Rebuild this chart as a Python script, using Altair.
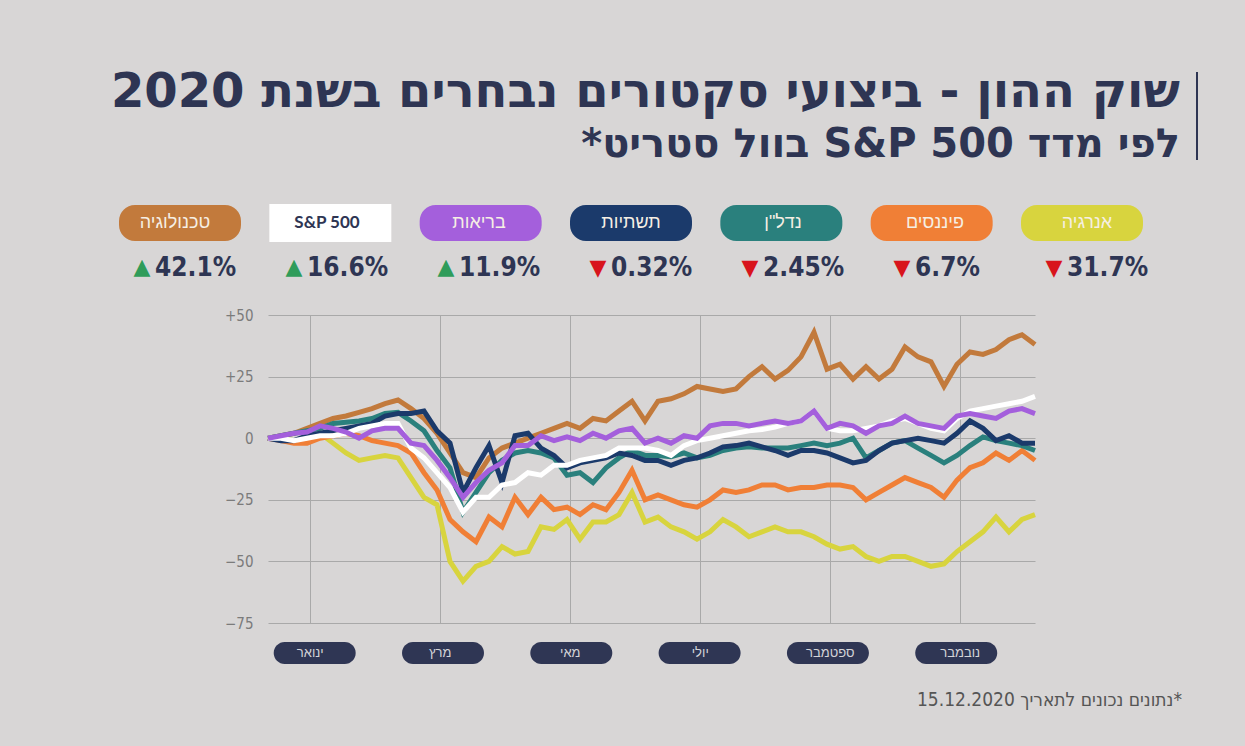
import altair as alt
import pandas as pd

# ---------------- data ----------------
X = [0.35, 0.55, 0.75, 0.95, 1.15, 1.35, 1.55, 1.75, 1.95, 2.15,
     2.35, 2.55, 2.75, 2.95, 3.15, 3.35, 3.55, 3.75, 3.95, 4.15,
     4.35, 4.55, 4.75, 4.95, 5.15, 5.35, 5.55, 5.75, 5.95, 6.15,
     6.35, 6.55, 6.75, 6.95, 7.15, 7.35, 7.55, 7.75, 7.95, 8.15,
     8.35, 8.55, 8.75, 8.95, 9.15, 9.35, 9.55, 9.75, 9.95, 10.15,
     10.35, 10.55, 10.75, 10.95, 11.15, 11.35, 11.55, 11.75, 11.95, 12.15]

TECH = [0, 1, 2, 4, 6, 8, 9, 10.5, 12, 14,
        15.5, 12, 8, 2, -6, -14, -16, -8, -4, -2,
        0, 2, 4, 6, 4, 8, 7, 11, 15, 7,
        15, 16, 18, 21, 20, 19, 20, 25, 29, 24,
        27.5, 33, 43, 28, 30, 24, 29, 24, 28, 37,
        33, 31, 21, 30, 35, 34, 36, 40, 42, 38]
ENERGY = [0, 0, -1, 0, 2, -2, -6, -9, -8, -7,
          -8, -16, -24, -27, -50, -58, -52, -50, -44, -47,
          -46, -36, -37, -33, -41, -34, -34, -31, -22, -34,
          -32, -36, -38, -41, -38, -33, -36, -40, -38, -36,
          -38, -38, -40, -43, -45, -44, -48, -50, -48, -48,
          -50, -52, -51, -46, -42, -38, -32, -38, -33, -31]
FIN = [0, -1, -2, -2, 0, 1, 2, 1, -1, -2,
       -3, -6, -14, -21, -33, -38, -42, -32, -36, -24,
       -31, -24, -29, -28, -31, -27, -29, -22, -13, -25,
       -23, -25, -27, -28, -25, -21, -22, -21, -19, -19,
       -21, -20, -20, -19, -19, -20, -25, -22, -19, -16,
       -18, -20, -24, -17, -12, -10, -6, -9, -5, -9]
HEALTH = [0, 1, 2, 2.5, 5, 4, 2.5, 0, 3, 4,
          4, -2, -3, -9, -16, -24, -18, -13, -10, -3,
          -3, 1, -1, 0.5, -1, 2, 0, 3, 4, -2,
          0, -2, 1, 0, 5, 6, 6, 5, 6, 7,
          6, 7, 11, 4, 6, 5, 2, 5, 6, 9,
          6, 5, 4, 9, 10, 9, 8, 11, 12, 10]
SP500 = [0, 0, -1, 0, 1, 1, 2, 4, 5, 6,
         6, -4, -8, -14, -20, -30, -24, -24, -19, -18,
         -14, -15, -11, -11, -9, -8, -7, -4, -4, -4,
         -5, -7, -3, -1, 0, 1, 2, 3, 3.5, 4.5,
         6, 7, 11, 4, 3, 3, 4, 5, 7, 8,
         6, 4, 3, 8, 11, 12, 13, 14, 15, 17]
INFRA = [0, -1, -1, 1, 2, 3, 4, 5, 6, 9,
         10, 10, 11, 3, -2, -22, -12, -3, -18, 1,
         2, -4, -7, -12, -10, -9, -8, -6, -7, -9,
         -9, -11, -9, -8, -6, -3.5, -3, -2, -3.5, -5,
         -7, -5, -5, -6, -8, -10, -9, -5, -2, -1,
         0, -1, -2, 2, 7, 4, -1, 1, -2, -2]
REALTY = [0, 1, 2, 3, 4, 6, 6.5, 7, 8, 10,
          10.5, 7, 3, -5, -12, -30, -22, -14, -9, -6,
          -5, -6, -8, -15, -14, -18, -12, -8, -5, -7,
          -7, -7.5, -6, -8, -7, -5, -4, -3.5, -4, -4,
          -4, -3, -2, -3, -2, 0, -8, -5, -2, -1,
          -4, -7, -10, -7, -3, 0.5, -1, -2, -3, -5]

NAMES = ["טכנולוגיה", "S&P 500", "בריאות", "תשתיות", "נדל\"ן", "פיננסים", "אנרגיה"]
PCTS = ["42.1%", "16.6%", "11.9%", "0.32%", "2.45%", "6.7%", "31.7%"]
UP = [True, True, True, False, False, False, False]
COLORS = ["#c27a3c", "#ffffff", "#a45fdc", "#1b3a6b", "#2a807d", "#f07f36", "#d8d43e"]
SERIES = [TECH, SP500, HEALTH, INFRA, REALTY, FIN, ENERGY]
DRAW_ORDER = [0, 6, 5, 4, 3, 1, 2]

MONTHS = ["ינואר", "מרץ", "מאי", "יולי", "ספטמבר", "נובמבר"]
MONTH_POS = [1, 3, 5, 7, 9, 11]

TITLE = "שוק ההון - ביצועי סקטורים נבחרים בשנת 2020"
SUBTITLE = "לפי מדד S&P 500 בוול סטריט*"
NOTE = "*נתונים נכונים לתאריך 15.12.2020"
RLE, PDF = "\u202b", "\u202c"

NAVY = "#2e3553"
HEB_FONT = "Liberation Sans"
TITLE_FONT = "DejaVu Sans"
NUM_FONT = "Liberation Sans Narrow, DejaVu Sans Condensed, Liberation Sans"

# ---------------- scales ----------------
xs = alt.Scale(domain=[0.35, 12.15], nice=False, zero=False)
ys = alt.Scale(domain=[-75, 50], nice=False, zero=False)
y_axis = alt.Axis(values=[-75, -50, -25, 0, 25, 50],
                  labelExpr="datum.value > 0 ? '+' + datum.label : datum.label",
                  grid=True, gridColor="#a9a9a9", gridWidth=1, ticks=False,
                  domain=False, labelPadding=15, labelFontSize=15,
                  labelColor="#7b7b7b", labelFont=NUM_FONT, title=None)
x_axis = alt.Axis(values=MONTH_POS, grid=True, gridColor="#a9a9a9", gridWidth=1,
                  labels=False, ticks=False, domain=False, title=None)

layers = []
for n, i in enumerate(DRAW_ORDER):
    df = pd.DataFrame({"x": X, "v": SERIES[i]})
    layers.append(
        alt.Chart(df).mark_line(strokeWidth=5, color=COLORS[i]).encode(
            x=alt.X("x:Q", scale=xs, axis=x_axis if n == 0 else None),
            y=alt.Y("v:Q", scale=ys, axis=y_axis),
        )
    )

# month pills
mdf = pd.DataFrame({"m": MONTH_POS, "name": MONTHS})
layers.append(
    alt.Chart(mdf).mark_bar(orient="vertical", width=82, cornerRadius=11, color="#2f3654").encode(
        x=alt.X("m:Q", scale=xs, axis=None), y=alt.value(327), y2=alt.value(349)
    )
)
layers.append(
    alt.Chart(mdf).mark_text(color="#d4d4d8", fontSize=13, font=HEB_FONT, baseline="middle").encode(
        x=alt.X("m:Q", scale=xs, axis=None), y=alt.value(338), text="name:N"
    )
)

# legend pills
ldf = pd.DataFrame({"i": list(range(len(NAMES))), "name": NAMES, "pct": PCTS,
                    "up": UP, "col": COLORS})
lx = alt.X("i:Q", scale=alt.Scale(domain=[0, 6], range=[-93, 819], nice=False, zero=False), axis=None)
lcol = alt.Color("col:N", scale=None, legend=None)
layers.append(
    alt.Chart(ldf).transform_filter("datum.i != 1").mark_bar(
        orient="vertical", width=122, cornerRadius=16).encode(
        x=lx, y=alt.value(-110), y2=alt.value(-74), color=lcol)
)
layers.append(
    alt.Chart(ldf).transform_filter("datum.i == 1").mark_bar(
        orient="vertical", width=122, color="#ffffff").encode(
        x=lx, y=alt.value(-111), y2=alt.value(-73))
)
layers.append(
    alt.Chart(ldf).transform_filter("datum.i != 1").mark_text(
        color="#f6efe4", fontSize=18, font=HEB_FONT, baseline="middle").encode(
        x=lx, y=alt.value(-92), text="name:N")
)
layers.append(
    alt.Chart(ldf).transform_filter("datum.i == 1").mark_text(
        color=NAVY, fontSize=17, fontWeight="bold", font="Lato", baseline="middle").encode(
        x=lx, y=alt.value(-92), text="name:N")
)
layers.append(
    alt.Chart(ldf).mark_text(color=NAVY, fontSize=26, fontWeight="bold", font=NUM_FONT,
                             align="left", dx=-20, baseline="middle").encode(
        x=lx, y=alt.value(-47), text="pct:N")
)
layers.append(
    alt.Chart(ldf).transform_filter("datum.up").transform_calculate(t="'▲'").mark_text(
        color="#2f9c5a", fontSize=22, font="DejaVu Sans", dx=-33, baseline="middle").encode(
        x=lx, y=alt.value(-48), text="t:N")
)
layers.append(
    alt.Chart(ldf).transform_filter("!datum.up").transform_calculate(t="'▼'").mark_text(
        color="#d8141c", fontSize=22, font="DejaVu Sans", dx=-33, baseline="middle").encode(
        x=lx, y=alt.value(-47), text="t:N")
)

# titles and note
tdf = pd.DataFrame({"t": [TITLE], "s": [RLE + SUBTITLE + PDF], "n": [RLE + NOTE + PDF]})
layers.append(
    alt.Chart(tdf).mark_text(color=NAVY, fontSize=48, fontWeight="bold", font=TITLE_FONT,
                             align="right", baseline="alphabetic").encode(
        x=alt.value(912), y=alt.value(-208), text="t:N")
)
layers.append(
    alt.Chart(tdf).mark_text(color=NAVY, fontSize=40, fontWeight="bold", font=TITLE_FONT,
                             align="right", baseline="alphabetic").encode(
        x=alt.value(912), y=alt.value(-158), text="s:N")
)
layers.append(
    alt.Chart(tdf).mark_rule(color=NAVY, strokeWidth=2).encode(
        x=alt.value(929), y=alt.value(-243), y2=alt.value(-155))
)
layers.append(
    alt.Chart(tdf).mark_text(color="#555555", fontSize=19, font=NUM_FONT,
                             align="right", baseline="alphabetic").encode(
        x=alt.value(914), y=alt.value(391), text="n:N")
)

chart = alt.layer(*layers).resolve_scale(x="independent").properties(
    width=767, height=308,
    autosize=alt.AutoSizeParams(type="none"),
    padding={"left": 268, "top": 315, "right": 210, "bottom": 123},
    background="#d8d6d6",
).configure_view(stroke=None)

chart.save("out.html", embed_options={"renderer": "svg", "actions": False})
